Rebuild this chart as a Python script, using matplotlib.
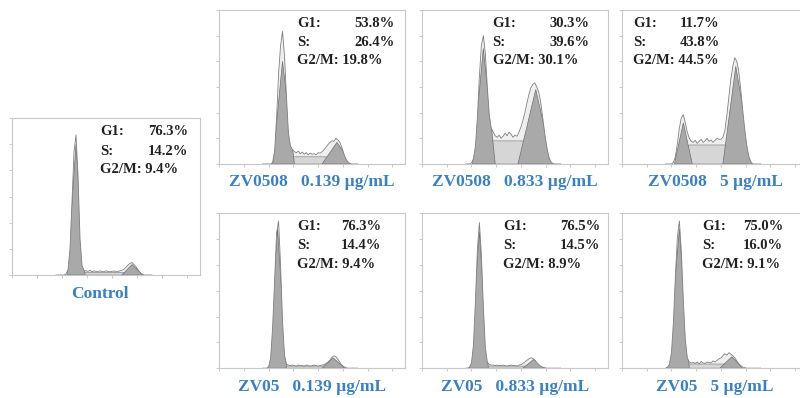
import numpy as np
import matplotlib
matplotlib.use('Agg')
import matplotlib.pyplot as plt
from matplotlib.ticker import MultipleLocator

plt.rcParams['font.family'] = ['Liberation Serif', 'DejaVu Serif']

# panel order: control, ZV0508 x3 (top row), ZV05 x3 (bottom row)
titles = ["Control",
          "ZV0508   0.139 µg/mL", "ZV0508   0.833 µg/mL", "ZV0508   5 µg/mL",
          "ZV05   0.139 µg/mL", "ZV05   0.833 µg/mL", "ZV05   5 µg/mL"]
g1_pct = ["76.3%", "53.8%", "30.3%", "11.7%", "76.3%", "76.5%", "75.0%"]
s_pct = ["14.2%", "26.4%", "39.6%", "43.8%", "14.4%", "14.5%", "16.0%"]
g2m_pct = ["9.4%", "19.8%", "30.1%", "44.5%", "9.4%", "8.9%", "9.1%"]

# DNA content channels (bins) and counts
channels = np.arange(44, 141, 2)
hist_control = [0, 0, 0, 0, 0,
                2, 10, 50, 140, 235, 268, 190, 70, 18,
                9, 8, 7, 9, 6, 8, 7, 6, 8, 7, 6, 8, 7, 6, 7, 8, 6, 7, 8, 9,
                11, 15, 19, 22, 24, 20, 16, 10, 5, 2,
                0, 0, 0, 0, 0]
hist_zv0508_0139 = [0, 0, 0, 0, 0,
                    3, 25, 90, 175, 230, 258, 210, 130, 60,
                    35, 28, 24, 22, 25, 20, 23, 19, 22, 18, 21, 19, 20, 18, 22, 21, 24, 28, 33, 38,
                    42, 45, 44, 50, 47, 42, 32, 20, 10, 4,
                    1, 0, 0, 0, 0]
hist_zv0508_0833 = [0, 0, 0, 2, 10,
                    35, 90, 170, 230, 250, 215, 150, 95, 70,
                    62, 55, 52, 56, 50, 54, 60, 55, 62, 58, 52, 56, 54, 62, 72, 85, 100, 118, 135, 148,
                    155, 158, 150, 140, 120, 90, 60, 35, 15, 5,
                    1, 0, 0, 0, 0]
hist_zv0508_5 = [0, 0, 0, 0, 3,
                 15, 40, 70, 90, 96, 80, 62, 50, 44,
                 42, 46, 40, 44, 48, 42, 45, 50, 44, 47, 42, 46, 50, 48, 48, 52, 65, 95, 130, 165,
                 190, 207, 200, 180, 145, 105, 68, 38, 16, 5,
                 0, 0, 0, 0, 0]
hist_zv05_0139 = [0, 0, 0, 3, 20,
                  80, 170, 262, 285, 200, 90, 25, 8, 6,
                  5, 6, 5, 4, 6, 5, 5, 4, 6, 5, 4, 5, 6, 5, 4, 5, 6, 7, 9, 12,
                  16, 21, 24, 22, 17, 11, 6, 3, 1, 0,
                  0, 0, 0, 0, 0]
hist_zv05_0833 = [0, 0, 2, 10, 45,
                  130, 230, 282, 220, 120, 40, 12, 7, 6,
                  6, 5, 6, 5, 5, 6, 5, 4, 5, 6, 5, 5, 4, 6, 7, 9, 12, 15, 18, 20,
                  19, 16, 11, 7, 4, 2, 1, 0, 0, 0,
                  0, 0, 0, 0, 0]
hist_zv05_5 = [0, 2, 8, 30, 90,
               180, 255, 285, 225, 130, 55, 20, 12, 10,
               11, 9, 12, 8, 13, 10, 9, 12, 11, 10, 14, 12, 15, 18, 20, 24, 28, 25, 30, 27,
               24, 20, 14, 9, 5, 2, 1, 0, 0, 0,
               0, 0, 0, 0, 0]
hists = [hist_control, hist_zv0508_0139, hist_zv0508_0833, hist_zv0508_5,
         hist_zv05_0139, hist_zv05_0833, hist_zv05_5]

# fitted components: (left foot, peak channel, right foot, height)
g1_fit = [(55, 64, 73, 250), (54, 64, 76, 200), (51, 62, 74, 225), (53, 62, 71, 80),
          (49, 59, 68, 270), (48, 58, 67, 265), (46, 58, 68, 270)]
g2_fit = [(110, 120, 131, 20), (104, 119, 134, 42), (97, 115, 132, 145), (102, 115, 132, 190),
          (104, 115, 127, 20), (102, 113, 124, 17), (99, 111, 122, 22)]
# S phase: (start, top start, top end, end, height)
s_fit = [(60, 68, 118, 126, 5), (58, 70, 108, 125, 14), (53, 68, 101, 128, 45),
         (55, 68, 104, 126, 37), (55, 66, 110, 122, 4), (54, 64, 106, 118, 4),
         (52, 64, 104, 118, 8)]

fig = plt.figure(figsize=(8, 3.98), dpi=100)

rects = [[0.015, 0.309, 0.235, 0.394],
         [0.274, 0.588, 0.2325, 0.387], [0.5275, 0.588, 0.2325, 0.387], [0.7775, 0.588, 0.2325, 0.387],
         [0.274, 0.075, 0.2325, 0.389], [0.5275, 0.075, 0.2325, 0.389], [0.7775, 0.075, 0.2325, 0.389]]
label_x = [0.468, 0.417, 0.38, 0.06, 0.42, 0.435, 0.43]
value_x = [0.935, 0.945, 0.9, 0.525, 0.87, 0.96, 0.865]
title_x = [0.47, 0.5, 0.5, 0.5, 0.5, 0.5, 0.5]

blue = '#3a80c4'
for i in range(7):
    ax = fig.add_axes(rects[i])
    h = hists[i]
    area = ax.fill_between(channels, h, color='#efefef', lw=0)
    clip = area.get_paths()[0]

    sl, sa, sb, sr, sh = s_fit[i]
    p = ax.fill([sl, sa, sb, sr], [0, sh, sh, 0], facecolor='#d6d6d6', edgecolor='#8c8c8c', lw=0.5)[0]
    p.set_clip_path(clip, ax.transData)
    for l, c, r, hh in (g1_fit[i], g2_fit[i]):
        p = ax.fill([l, c, r], [0, hh, 0], facecolor='#a9a9a9', edgecolor='#6e6e6e', lw=0.5)[0]
        p.set_clip_path(clip, ax.transData)

    ax.plot(channels, h, color='#7f7f7f', lw=0.6)

    ax.set_xlim(0, 188)
    ax.set_ylim(0, 300)
    ax.xaxis.set_major_locator(MultipleLocator(25))
    ax.yaxis.set_major_locator(MultipleLocator(50))
    ax.tick_params(labelbottom=False, labelleft=False, length=2, width=0.5,
                   color='#b5b5b5', direction='out')
    for s in ax.spines.values():
        s.set_color('#c8c8c8')
        s.set_linewidth(0.8)

    kw = dict(transform=ax.transAxes, fontsize=10.5, fontweight='bold', color='#222222', va='center')
    ax.text(label_x[i], 0.915, "G1:", ha='left', **kw)
    ax.text(value_x[i], 0.915, g1_pct[i], ha='right', **kw)
    ax.text(label_x[i], 0.79, "S:", ha='left', **kw)
    ax.text(value_x[i], 0.79, s_pct[i], ha='right', **kw)
    ax.text(label_x[i], 0.67, "G2/M: " + g2m_pct[i], ha='left', **kw)

    ax.text(title_x[i], -0.12, titles[i], transform=ax.transAxes, ha='center', va='center',
            fontsize=12.5, fontweight='bold', color=blue)

fig.savefig('out.png', dpi=100)
